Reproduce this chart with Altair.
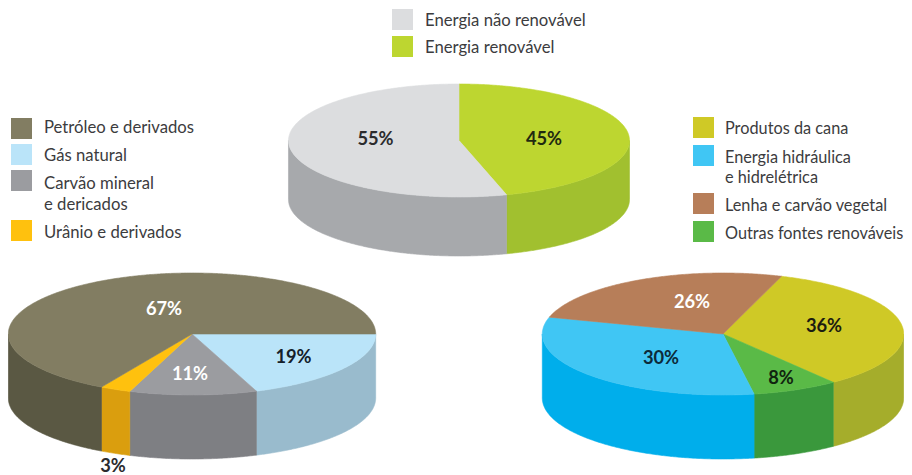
import math
import altair as alt
import pandas as pd

# Values (share of the full turn of each slice) and printed labels
top_names = ["Energia renovável", "Energia não renovável"]
top_shares = [45.5, 54.5]
top_labels = ["45%", "55%"]

left_names = ["Gás natural", "Carvão mineral e dericados", "Urânio e derivados", "Petróleo e derivados"]
left_shares = [19.3, 11.2, 2.7, 66.8]
left_labels = ["19%", "11%", "3%", "67%"]

right_names = ["Produtos da cana", "Outras fontes renováveis", "Energia hidráulica e hidrelétrica", "Lenha e carvão vegetal"]
right_shares = [34.3, 7.7, 32.2, 25.8]
right_labels = ["36%", "8%", "30%", "26%"]

# Styles
top_face = ["#BDD630", "#DCDDDF"]
top_side = ["#A1C02F", "#A7A9AC"]
left_face = ["#BAE4F9", "#9B9CA0", "#FFC10E", "#827D62"]
left_side = ["#99BBCD", "#7E7F83", "#DA9E0E", "#5A5843"]
right_face = ["#CFC926", "#5ABA47", "#40C6F4", "#B77E59"]
right_side = ["#A5AD2B", "#3A983C", "#00AEEB", "#8F6245"]

# Layout (page pixels)
pies = [
    dict(cx=459.0, cy=140.5, rx=170.5, ry=56.5, depth=59, start=90.0,
         shares=top_shares, names=top_names, face=top_face, side=top_side),
    dict(cx=192.0, cy=334.0, rx=183.7, ry=61.0, depth=64, start=0.0,
         shares=left_shares, names=left_names, face=left_face, side=left_side),
    dict(cx=723.0, cy=334.0, rx=180.7, ry=61.0, depth=64, start=71.1,
         shares=right_shares, names=right_names, face=right_face, side=right_side),
]
pct_pos = [
    (top_labels, [(544, 139), (375.5, 139)], ["#1f2a10", "#2b2b2d"]),
    (left_labels, [(293.5, 357), (190, 374), (113, 466.5), (164, 309)], ["#14202a", "#ffffff", "#2b2b2d", "#ffffff"]),
    (right_labels, [(824, 326), (781, 378), (661, 358), (692, 302)], ["#1c1c10", "#10240f", "#0c2a3a", "#ffffff"]),
]
legend_rows = [
    ("Energia não renovável", 425, 21), ("Energia renovável", 425, 48),
    ("Petróleo e derivados", 44, 128), ("Gás natural", 44, 156), ("Carvão mineral", 44, 184),
    ("e dericados", 44, 205), ("Urânio e derivados", 44, 233),
]
legend_rows_right = [
    ("Produtos da cana", 725, 129), ("Energia hidráulica", 725, 158), ("e hidrelétrica", 725, 178),
    ("Lenha e carvão vegetal", 725, 206), ("Outras fontes renováveis", 725, 234),
]
swatches = [
    (392, 9, "#DCDDDF"), (392, 36, "#BDD630"),
    (11, 118, "#827D62"), (11, 144, "#BAE4F9"), (11, 170, "#9B9CA0"), (11, 220, "#FFC10E"),
    (693, 117, "#CFC926"), (693, 145, "#40C6F4"), (693, 193, "#B77E59"), (693, 221, "#5ABA47"),
]

# The page squeezes an SVG wider than its 896px body and centres it vertically;
# compensate so page pixels stay true.
W = 904
H = 471
SQUEEZE = W / 896
YSHIFT = H * (1 - 1 / SQUEEZE) / 2


def ell(p, t, dy=0.0):
    r = math.radians(t)
    return p["cx"] + p["rx"] * math.cos(r), p["cy"] - p["ry"] * math.sin(r) + dy


rows = []
gid = 0


def add(points, colour, name):
    global gid
    gid += 1
    for i, (x, y) in enumerate(points + points[:1]):
        rows.append(dict(group=f"g{gid:02d}", i=i, x=x, y=y, colour=colour, name=name))


def steps(a, b):
    n = max(2, int((a - b) * 2))
    return [a + (b - a) * k / n for k in range(n + 1)]


for p in pies:
    t = p["start"]
    for share, face, side, name in zip(p["shares"], p["face"], p["side"], p["names"]):
        t2 = t - share * 3.6
        for k in (0, -360, 360):
            a, b = min(t + k, 0.0), max(t2 + k, -180.0)
            if a > b:
                ts = steps(a, b)
                add([ell(p, u) for u in ts] + [ell(p, u, p["depth"]) for u in reversed(ts)], side, name)
        add([(p["cx"], p["cy"])] + [ell(p, u) for u in steps(t, t2)], face, name)
        t = t2

xs = alt.Scale(domain=[8, 912], range=[0, 904 * SQUEEZE])
ys = alt.Scale(domain=[8, 475], range=[-YSHIFT * SQUEEZE, (467 - YSHIFT) * SQUEEZE])
X = lambda f="x": alt.X(f"{f}:Q", scale=xs, axis=None)
Y = lambda f="y": alt.Y(f"{f}:Q", scale=ys, axis=None)

shapes = alt.Chart(pd.DataFrame(rows)).mark_line(filled=True, strokeWidth=0.6, interpolate="linear", clip=False).encode(
    x=X(), y=Y(), order="i:Q", detail="group:N",
    stroke=alt.Stroke("colour:N", scale=None, legend=None),
    fill=alt.Fill("colour:N", scale=None, legend=None),
)

sw_df = pd.DataFrame([dict(x=x, x2=x + 21, y=y, y2=y + 21, colour=c) for x, y, c in swatches])
sw = alt.Chart(sw_df).mark_rect().encode(
    x=X(), x2="x2:Q", y=Y(), y2="y2:Q", color=alt.Color("colour:N", scale=None, legend=None)
)

leg = alt.Chart(pd.DataFrame(legend_rows, columns=["text", "x", "y"])).mark_text(
    align="left", baseline="middle", font="Lato", fontSize=16.7 * SQUEEZE, color="#3c3c3e"
).encode(x=X(), y=Y(), text="text:N")

leg_r = alt.Chart(pd.DataFrame(legend_rows_right, columns=["text", "x", "y"])).mark_text(
    align="left", baseline="middle", font="Lato", fontSize=16.3 * SQUEEZE, color="#3c3c3e"
).encode(x=X(), y=Y(), text="text:N")

pct_rows = []
for labels, pos, cols in pct_pos:
    for l, (x, y), c in zip(labels, pos, cols):
        pct_rows.append(dict(text=l, x=x, y=y, colour=c))
pct = alt.Chart(pd.DataFrame(pct_rows)).mark_text(align="center", baseline="middle", font="Lato", fontSize=18.3 * SQUEEZE, fontWeight="bold").encode(
    x=X(), y=Y(), text="text:N", color=alt.Color("colour:N", scale=None, legend=None)
)

chart = alt.layer(shapes, sw, leg, leg_r, pct).properties(
    width=W, height=H, padding=0, autosize=alt.AutoSizeParams(type="none")
).configure_view(stroke=None)

chart.save("out.html", embed_options={"renderer": "svg", "actions": False})
